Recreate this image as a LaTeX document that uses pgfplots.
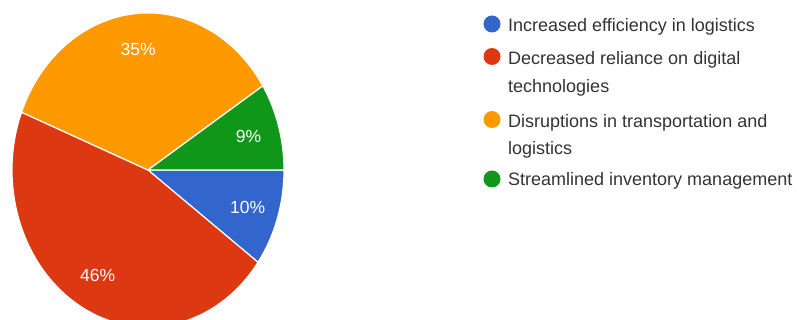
\documentclass[border=0pt]{standalone}
\usepackage{pgfplots}
\usepackage{pgfplotstable}
\pgfplotsset{compat=1.18}
\usepackage{fontspec}
\setmainfont{Liberation Sans}
\definecolor{gblue}{HTML}{3366CC}
\definecolor{gred}{HTML}{DC3912}
\definecolor{gorange}{HTML}{FF9900}
\definecolor{ggreen}{HTML}{109618}
\definecolor{legtext}{HTML}{333333}
\pgfplotstableread{
value col
10 gblue
46 gred
35 gorange
9 ggreen
}\piedata
\begin{document}
\begin{tikzpicture}
\path[use as bounding box] (0,0) rectangle (798bp,320bp);
\clip (0,0) rectangle (798bp,320bp);
\begin{axis}[at={(0,0)}, anchor=south west, scale only axis,
  x=1bp, y=1bp, xmin=0, xmax=798, ymin=0, ymax=320,
  hide axis, clip=false]
\pgfplotstablegetrowsof{\piedata}
\pgfmathtruncatemacro{\nrows}{\pgfplotsretval-1}
\def\cum{0}
\pgfplotsforeachungrouped \i in {0,...,\nrows}{%
  \pgfplotstablegetelem{\i}{value}\of{\piedata}\let\val\pgfplotsretval
  \pgfplotstablegetelem{\i}{col}\of{\piedata}\let\col\pgfplotsretval
  \pgfmathsetmacro{\sa}{\cum}%
  \pgfmathsetmacro{\ea}{\cum-3.6*\val}%
  \edef\temp{\noexpand\fill[\col, draw=white, line width=1.2bp, line join=round]
    (axis cs:148,150) -- +(\sa:136bp and 157bp)
    arc[start angle=\sa, end angle=\ea, x radius=136bp, y radius=157bp] -- cycle;}%
  \temp
  \let\cum\ea
}
\def\cum{0}
\pgfplotsforeachungrouped \i in {0,...,\nrows}{%
  \pgfplotstablegetelem{\i}{value}\of{\piedata}\let\val\pgfplotsretval
  \pgfmathsetmacro{\sa}{\cum}%
  \pgfmathsetmacro{\ea}{\cum-3.6*\val}%
  \pgfmathsetmacro{\ma}{(\sa+\ea)/2}%
  \pgfmathsetmacro{\lx}{148+0.77*136*cos(\ma)}%
  \pgfmathsetmacro{\ly}{150+0.77*157*sin(\ma)}%
  \edef\temp{\noexpand\node[text=white, inner sep=0pt, font=\noexpand\fontsize{17.5bp}{20bp}\noexpand\selectfont]
    at (axis cs:\lx,\ly) {\val\noexpand\%};}%
  \temp
  \let\cum\ea
}
% legend
\tikzset{legt/.style={anchor=base west, inner sep=0pt, text=legtext, font=\fontsize{18bp}{21bp}\selectfont}}
\fill[gblue] (axis cs:492,296) circle[radius=8.5bp];
\fill[gred] (axis cs:492,263.5) circle[radius=8.5bp];
\fill[gorange] (axis cs:492,200.5) circle[radius=8.5bp];
\fill[ggreen] (axis cs:492,141) circle[radius=8.5bp];
\node[legt] at (axis cs:508,288.3) {Increased efficiency in logistics};
\node[legt] at (axis cs:508,255.7) {Decreased reliance on digital};
\node[legt] at (axis cs:508,227.7) {technologies};
\node[legt] at (axis cs:508,192.3) {Disruptions in transportation and};
\node[legt] at (axis cs:508,165.7) {logistics};
\node[legt] at (axis cs:508,135) {Streamlined inventory management};
\end{axis}
\end{tikzpicture}
\end{document}
